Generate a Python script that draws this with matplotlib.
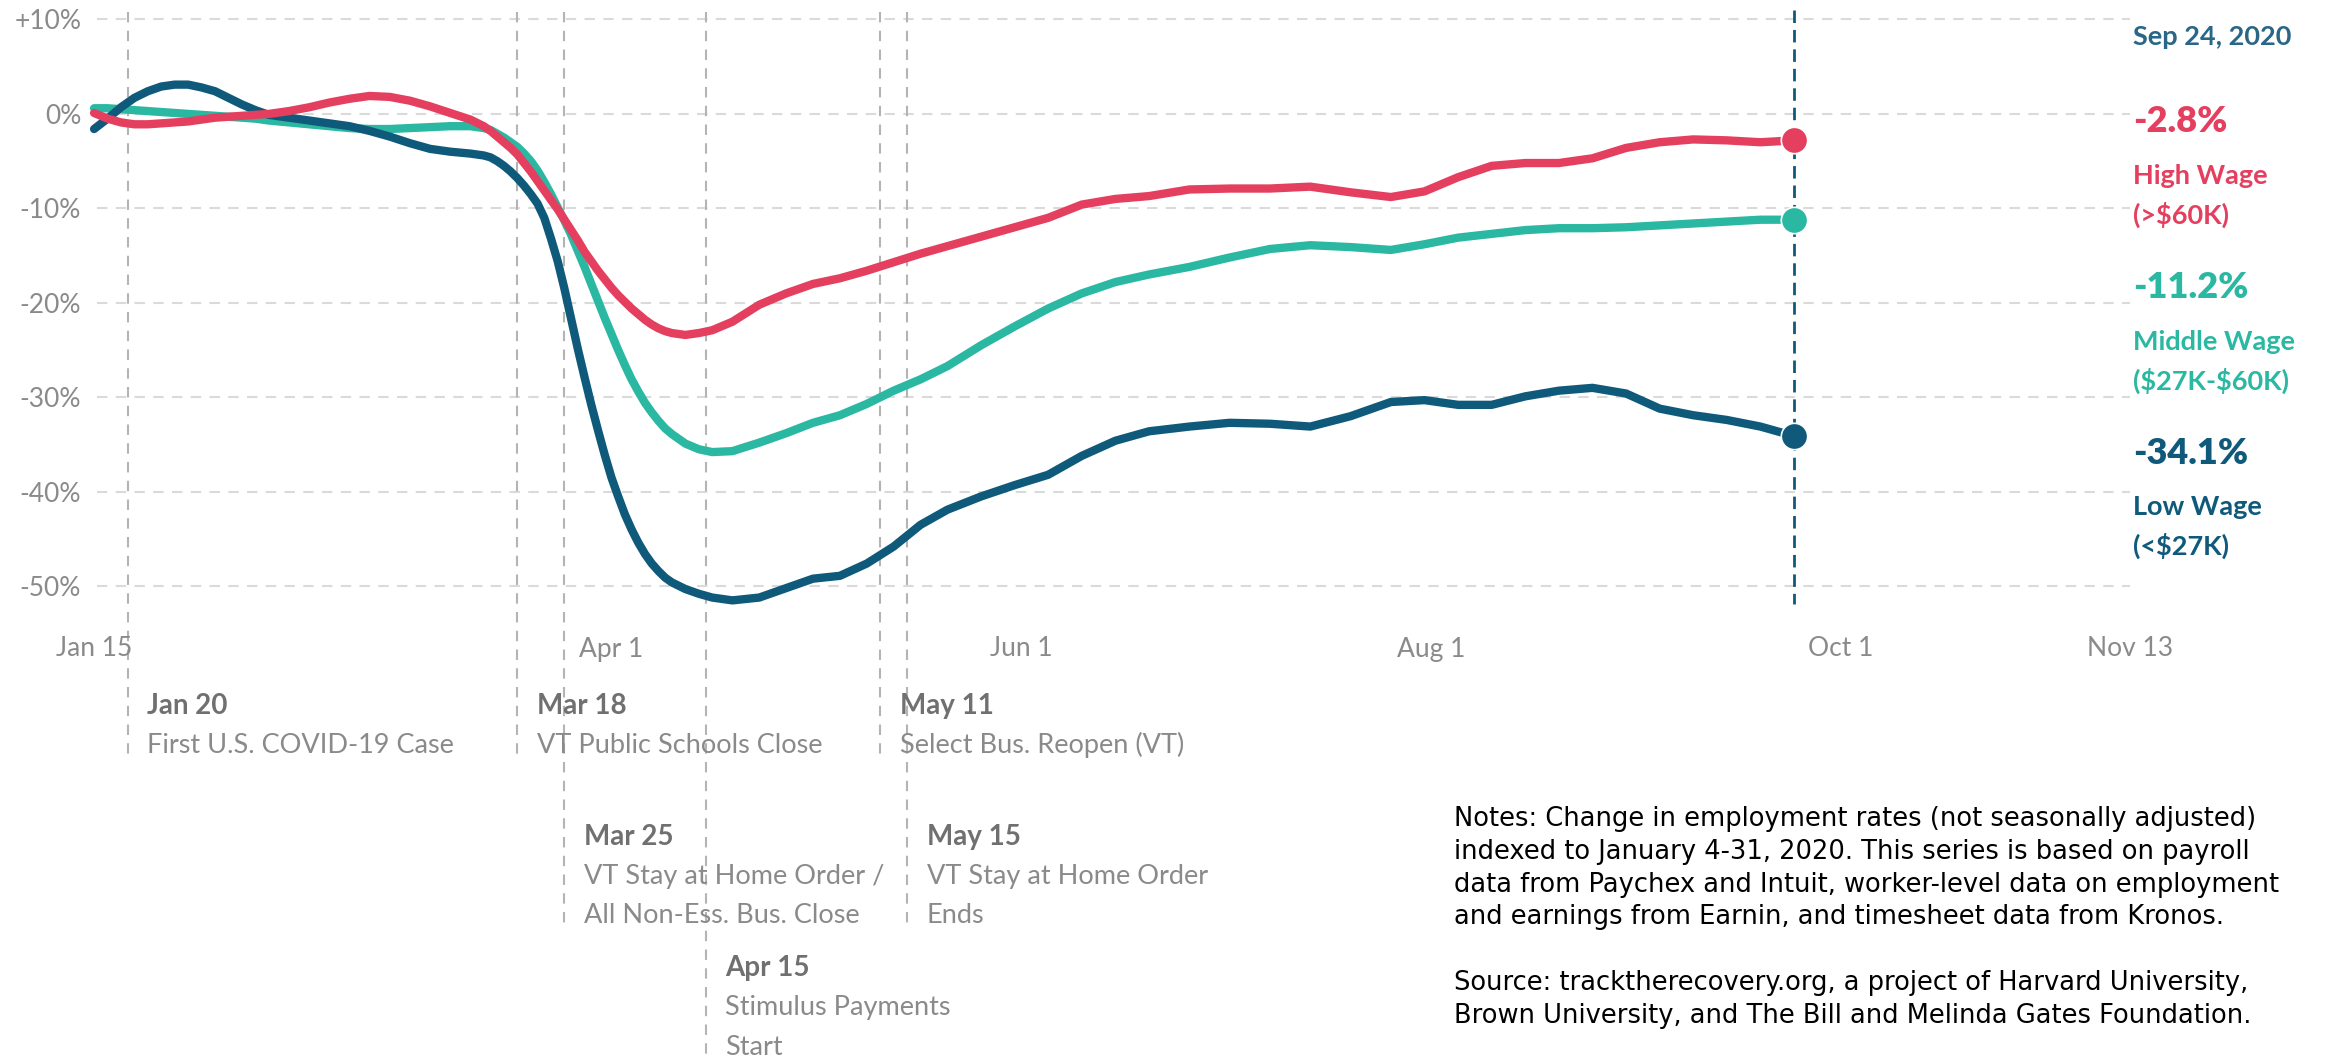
import matplotlib.pyplot as plt
from matplotlib.transforms import blended_transform_factory

plt.rcParams['font.family'] = ['Lato', 'DejaVu Sans']

# days since Jan 15, 2020
days = [0, 2, 4, 6, 8, 10, 12, 14, 16, 18, 20, 22, 24, 26,
        29, 32, 35, 38, 41, 44, 47, 50, 53, 56,
        58, 59, 60, 61, 62, 63, 64, 65, 66, 67, 68, 69, 70, 71, 72, 73, 74, 75, 76,
        77, 78, 79, 80, 81, 82, 83, 84, 85, 86,
        88, 90, 92, 95,
        99, 103, 107, 111, 115, 119, 123, 127, 132, 137, 142, 147, 152, 157, 163,
        169, 175, 181, 187, 193, 198, 203, 208, 213, 218, 223, 228, 233, 238, 243,
        248, 253]

low_wage = [-1.6, -0.5, 0.7, 1.7, 2.4, 2.9, 3.1, 3.1, 2.8, 2.4, 1.7, 1.0, 0.4, -0.1,
            -0.4, -0.7, -1.0, -1.3, -1.8, -2.4, -3.1, -3.7, -4.0, -4.2,
            -4.4, -4.6, -5.0, -5.5, -6.1, -6.8, -7.6, -8.5, -9.5, -11.0, -13.2, -15.6,
            -18.5, -21.7, -24.9, -27.9, -30.8, -33.5, -36.1, -38.5, -40.5, -42.4, -44.0,
            -45.4, -46.6, -47.6, -48.4, -49.1, -49.6,
            -50.3, -50.8, -51.2, -51.5,
            -51.2, -50.2, -49.2, -48.9, -47.6, -45.8, -43.5, -41.9, -40.5, -39.3, -38.2,
            -36.2, -34.6, -33.6, -33.1, -32.7, -32.8, -33.1, -32.0, -30.5, -30.3, -30.8,
            -30.8, -29.9, -29.3, -29.0, -29.6, -31.2, -31.9, -32.4, -33.1, -34.1]

middle_wage = [0.6, 0.6, 0.5, 0.4, 0.3, 0.2, 0.1, 0.0, -0.1, -0.2, -0.3, -0.4, -0.5, -0.7,
               -0.9, -1.1, -1.3, -1.5, -1.6, -1.6, -1.5, -1.4, -1.3, -1.3,
               -1.5, -1.7, -2.1, -2.5, -3.0, -3.5, -4.2, -5.0, -6.0, -7.2, -8.5, -9.9,
               -11.3, -12.8, -14.5, -16.2, -18.0, -19.8, -21.6, -23.3, -25.0, -26.6,
               -28.1, -29.4, -30.6, -31.6, -32.5, -33.3, -33.9,
               -34.9, -35.5, -35.8, -35.7,
               -34.8, -33.8, -32.7, -31.9, -30.7, -29.3, -28.1, -26.7, -24.5, -22.5,
               -20.6, -19.0, -17.8, -17.0, -16.2, -15.2, -14.3, -13.9, -14.1, -14.4,
               -13.8, -13.1, -12.7, -12.3, -12.1, -12.1, -12.0, -11.8, -11.6, -11.4,
               -11.2, -11.2]

high_wage = [0.1, -0.5, -0.9, -1.1, -1.1, -1.0, -0.9, -0.8, -0.6, -0.4, -0.3, -0.2, -0.1, 0.0,
             0.3, 0.7, 1.2, 1.6, 1.9, 1.8, 1.4, 0.8, 0.1, -0.6,
             -1.3, -1.8, -2.4, -3.0, -3.6, -4.3, -5.2, -6.1, -7.1, -8.1, -9.1, -10.1,
             -11.2, -12.3, -13.4, -14.6, -15.6, -16.6, -17.5, -18.4, -19.2, -19.9,
             -20.6, -21.2, -21.8, -22.3, -22.7, -23.0, -23.2,
             -23.4, -23.2, -22.9, -22.0,
             -20.2, -19.0, -18.0, -17.4, -16.6, -15.7, -14.8, -14.0, -13.0, -12.0,
             -11.0, -9.6, -9.0, -8.7, -8.0, -7.9, -7.9, -7.7, -8.3, -8.8, -8.2, -6.7,
             -5.5, -5.2, -5.2, -4.7, -3.6, -3.0, -2.7, -2.8, -3.0, -2.8]

xtick_days = [0, 77, 138, 199, 260, 303]
xtick_labels = ["Jan 15", "Apr 1", "Jun 1", "Aug 1", "Oct 1", "Nov 13"]
ytick_values = [10, 0, -10, -20, -30, -40, -50]
ytick_labels = ["+10%", "0%", "-10%", "-20%", "-30%", "-40%", "-50%"]

event_days = [5, 63, 70, 91, 117, 121]
event_dates = ["Jan 20", "Mar 18", "Mar 25", "Apr 15", "May 11", "May 15"]
event_texts = [["First U.S. COVID-19 Case"],
               ["VT Public Schools Close"],
               ["VT Stay at Home Order /", "All Non-Ess. Bus. Close"],
               ["Stimulus Payments", "Start"],
               ["Select Bus. Reopen (VT)"],
               ["VT Stay at Home Order", "Ends"]]
event_rows = [0, 0, 1, 2, 0, 1]

latest_day = 253
latest_label = "Sep 24, 2020"
series_names = ["High Wage", "Middle Wage", "Low Wage"]
series_ranges = ["(>\\$60K)", "(\\$27K-\\$60K)", "(<\\$27K)"]
latest_values = [-2.8, -11.2, -34.1]

notes = ["Notes: Change in employment rates (not seasonally adjusted)",
         "indexed to January 4-31, 2020. This series is based on payroll",
         "data from Paychex and Intuit, worker-level data on employment",
         "and earnings from Earnin, and timesheet data from Kronos.",
         "",
         "Source: tracktherecovery.org, a project of Harvard University,",
         "Brown University, and The Bill and Melinda Gates Foundation."]

RED = "#e43f5f"
TEAL = "#2bb8a2"
NAVY = "#0f5a7b"
W, H = 2339, 1060

fig = plt.figure(figsize=(W / 100, H / 100), dpi=100)
ax = fig.add_axes([84 / W, 1 - 624 / H, (2130 - 84) / W, (624 - 10) / H])
ax.set_xlim(-1.5, 303)
ax.set_ylim(-54, 11)
for s in ax.spines.values():
    s.set_visible(False)

# horizontal grid
ax.hlines(ytick_values, 0.5, 303, color="#dadada", linewidth=1.5, linestyle=(0, (5, 4)), zorder=0)

ax.set_xticks(xtick_days, xtick_labels)
ax.set_yticks(ytick_values, ytick_labels)
ax.tick_params(length=0, labelsize=19, labelcolor="#8a8a8a")
ax.tick_params(axis="y", pad=2)
ax.tick_params(axis="x", pad=9)

# event lines and labels below the plot
trans = blended_transform_factory(ax.transData, fig.transFigure)
row_top = [705.6, 836.9, 968.1]
line_step = 39.5
for d, date, lines, row in zip(event_days, event_dates, event_texts, event_rows):
    y0 = row_top[row]
    end = y0 + line_step * len(lines) + 12 if row < 2 else H
    ax.plot([d, d], [1 - 12 / H, 1 - end / H], transform=trans, clip_on=False,
            color="#b4b4b4", linewidth=1.5, dashes=(5, 4), zorder=1)
    ax.annotate(date, xy=(d, 1 - y0 / H), xycoords=trans, xytext=(14, 0),
                textcoords="offset points", ha="left", va="center",
                fontsize=20, fontweight="bold", color="#707070")
    for i, t in enumerate(lines):
        ax.annotate(t, xy=(d, 1 - (y0 + line_step * (i + 1)) / H), xycoords=trans,
                    xytext=(14, 0), textcoords="offset points", ha="left", va="center",
                    fontsize=19.5, color="#8a8a8a")

# latest date line
ax.plot([latest_day, latest_day], [11, -51.9], color=NAVY, linewidth=2, dashes=(4.5, 2.5), zorder=2)

ax.plot(days, middle_wage, color=TEAL, linewidth=6, solid_capstyle="round", solid_joinstyle="round", zorder=3)
ax.plot(days, low_wage, color=NAVY, linewidth=6, solid_capstyle="round", solid_joinstyle="round", zorder=4)
ax.plot(days, high_wage, color=RED, linewidth=6, solid_capstyle="round", solid_joinstyle="round", zorder=5)

colors = [RED, TEAL, NAVY]
for v, c in zip(latest_values, colors):
    ax.plot([latest_day], [v], "o", color=c, markersize=19, markeredgecolor="white",
            markeredgewidth=1.2, zorder=6)

# right side labels
lx = 2133 / W
fig.text(lx, 1 - 37 / H, latest_label, ha="left", va="center", fontsize=19.5,
         fontweight="bold", color="#2a6787")
value_y = [122, 288, 453]
for v, name, rng, c, y in zip(latest_values, series_names, series_ranges, colors, value_y):
    fig.text(lx, 1 - y / H, f"{v:.1f}%", ha="left", va="center", fontsize=26,
             fontweight="heavy", color=c)
    fig.text(lx, 1 - (y + 54) / H, name, ha="left", va="center", fontsize=19.5,
             fontweight="bold", color=c)
    fig.text(lx, 1 - (y + 93) / H, rng, ha="left", va="center", fontsize=19.5,
             fontweight="bold", color=c)

# notes
for i, line in enumerate(notes):
    if line:
        fig.text(1454 / W, 1 - (819 + 32.8 * i) / H, line, ha="left", va="center",
                 fontsize=18.5, color="black", family=["DejaVu Sans"])

fig.savefig("out.png", dpi=100)
